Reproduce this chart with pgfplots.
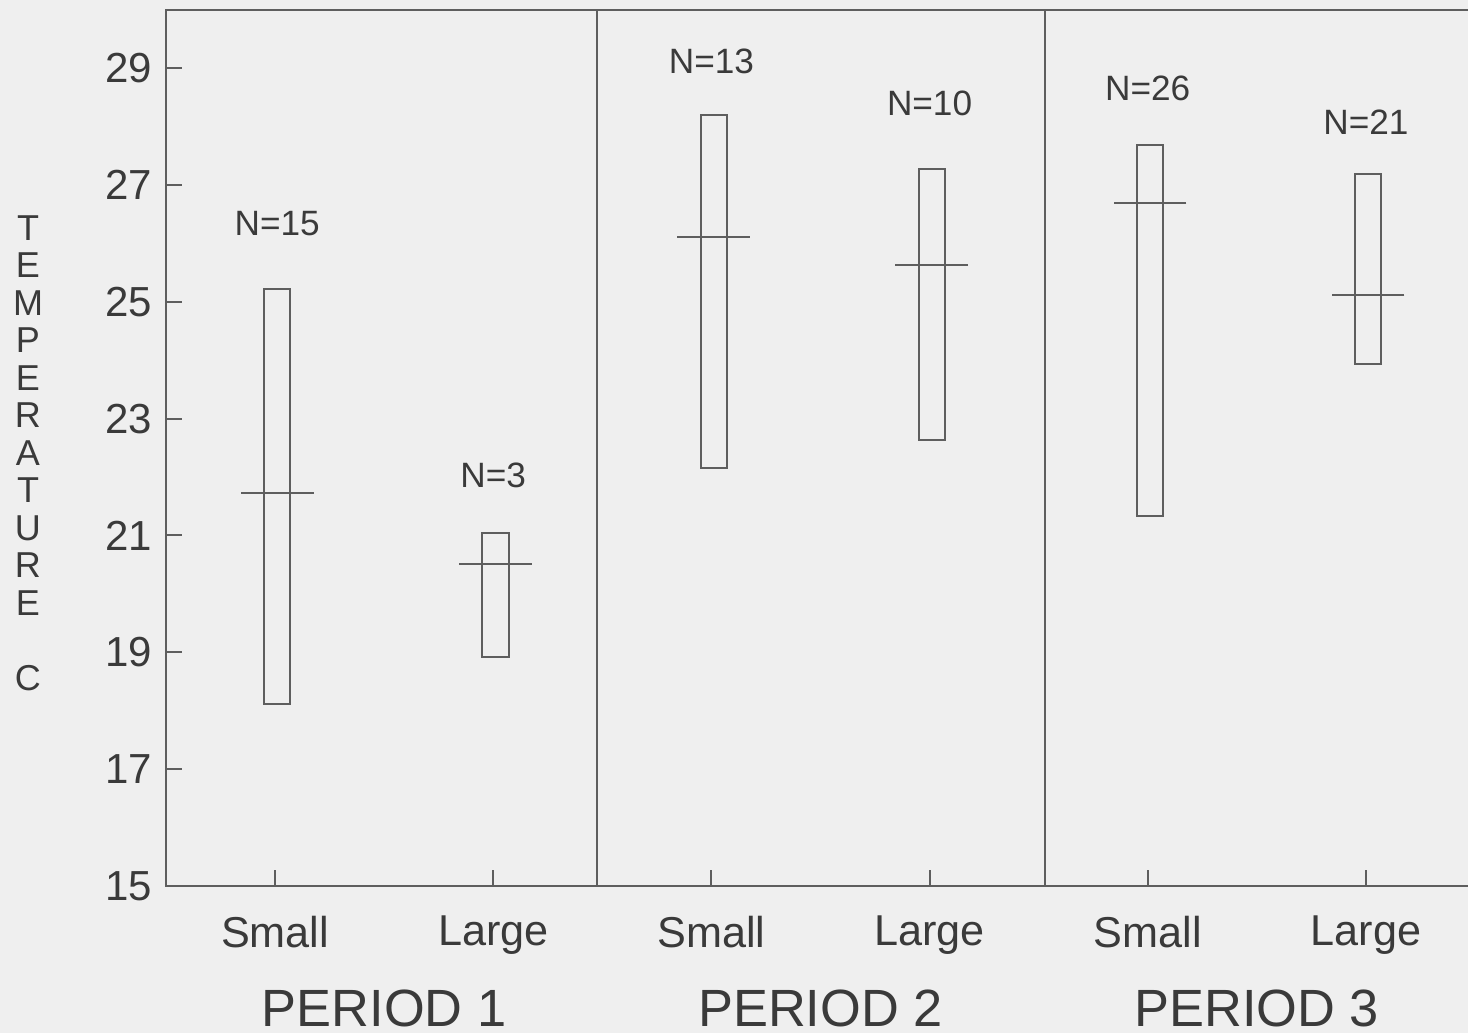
\documentclass[border=0pt]{standalone}
\usepackage{fontspec}
\setmainfont{Liberation Sans}
\usepackage{pgfplots}
\pgfplotsset{compat=1.18}
\usepgfplotslibrary{statistics}
\definecolor{bg}{HTML}{EFEFEF}
\definecolor{ink}{HTML}{3A3A3A}
\definecolor{ln}{HTML}{5E5E5E}
\begin{document}
\begin{tikzpicture}
\fill[bg] (-41.5pt,-36.75pt) rectangle (325.5pt,221.5pt);
\begin{axis}[
  at={(0pt,0pt)}, anchor=south west,
  scale only axis, width=327.25pt, height=219.1pt,
  xmin=-0.5, xmax=5.5, ymin=15, ymax=30,
  xtick={0,1,2,3,4,5},
  xticklabels={Small,Large,Small,Large,Small,Large},
  ytick={15,17,19,21,23,25,27,29},
  tick align=inside, tick pos=left,
  major tick length=4pt,
  axis line style={ln, line width=0.5pt},
  tick style={ln, line width=0.5pt},
  ticklabel style={ink},
  yticklabel style={font=\fontsize{10.5}{12}\selectfont},
  xticklabel style={font=\fontsize{10.8}{13}\selectfont, yshift=-4pt},
  /pgf/number format/assume math mode=true,
  clip=false,
  boxplot/draw direction=y,
]
% range boxes (min -- max), centre line at mean
\addplot[draw=ln, line width=0.5pt, boxplot prepared={draw position=0.01, lower whisker=18.11, lower quartile=18.11, median=21.73, upper quartile=25.21, upper whisker=25.21, box extend=0.12, whisker extend=0}] coordinates {};
\addplot[draw=ln, line width=0.5pt, boxplot prepared={draw position=1.01, lower whisker=18.92, lower quartile=18.92, median=20.52, upper quartile=21.04, upper whisker=21.04, box extend=0.12, whisker extend=0}] coordinates {};
\addplot[draw=ln, line width=0.5pt, boxplot prepared={draw position=2.01, lower whisker=22.15, lower quartile=22.15, median=26.11, upper quartile=28.20, upper whisker=28.20, box extend=0.12, whisker extend=0}] coordinates {};
\addplot[draw=ln, line width=0.5pt, boxplot prepared={draw position=3.01, lower whisker=22.64, lower quartile=22.64, median=25.63, upper quartile=27.27, upper whisker=27.27, box extend=0.12, whisker extend=0}] coordinates {};
\addplot[draw=ln, line width=0.5pt, boxplot prepared={draw position=4.01, lower whisker=21.33, lower quartile=21.33, median=26.69, upper quartile=27.68, upper whisker=27.68, box extend=0.12, whisker extend=0}] coordinates {};
\addplot[draw=ln, line width=0.5pt, boxplot prepared={draw position=5.01, lower whisker=23.93, lower quartile=23.93, median=25.11, upper quartile=27.19, upper whisker=27.19, box extend=0.12, whisker extend=0}] coordinates {};
% mean marks
\addplot[only marks, mark=-, mark size=9.1pt, mark options={draw=ln, line width=0.5pt}] coordinates {(0.01,21.73) (1.01,20.52) (2.01,26.11) (3.01,25.63) (4.01,26.69) (5.01,25.11)};
% period dividers
\addplot[ln, line width=0.5pt] coordinates {(1.475,15) (1.475,30)};
\addplot[ln, line width=0.5pt] coordinates {(3.53,15) (3.53,30)};
% N labels
\node[ink, font=\fontsize{8.8}{10}\selectfont] at (axis cs:0.01,26.34) {N=15};
\node[ink, font=\fontsize{8.8}{10}\selectfont] at (axis cs:1.0,22.03) {N=3};
\node[ink, font=\fontsize{8.8}{10}\selectfont] at (axis cs:2.0,29.11) {N=13};
\node[ink, font=\fontsize{8.8}{10}\selectfont] at (axis cs:3.0,28.40) {N=10};
\node[ink, font=\fontsize{8.8}{10}\selectfont] at (axis cs:4.0,28.65) {N=26};
\node[ink, font=\fontsize{8.8}{10}\selectfont] at (axis cs:5.0,28.07) {N=21};
% period labels
\node[ink, font=\fontsize{13.1}{15}\selectfont, yshift=-30.5pt] at (axis cs:0.5,15) {PERIOD 1};
\node[ink, font=\fontsize{13.1}{15}\selectfont, yshift=-30.5pt] at (axis cs:2.5,15) {PERIOD 2};
\node[ink, font=\fontsize{13.1}{15}\selectfont, yshift=-30.5pt] at (axis cs:4.5,15) {PERIOD 3};
\end{axis}
\node[ink, align=center, font=\fontsize{9}{9.375}\selectfont] at (-34.5pt,108.25pt) {T\\E\\M\\P\\E\\R\\A\\T\\U\\R\\E\\[9.375pt]C};
\pgfresetboundingbox
\path[use as bounding box] (-41.5pt,-36.75pt) rectangle (325.5pt,221.5pt);
\end{tikzpicture}
\end{document}
